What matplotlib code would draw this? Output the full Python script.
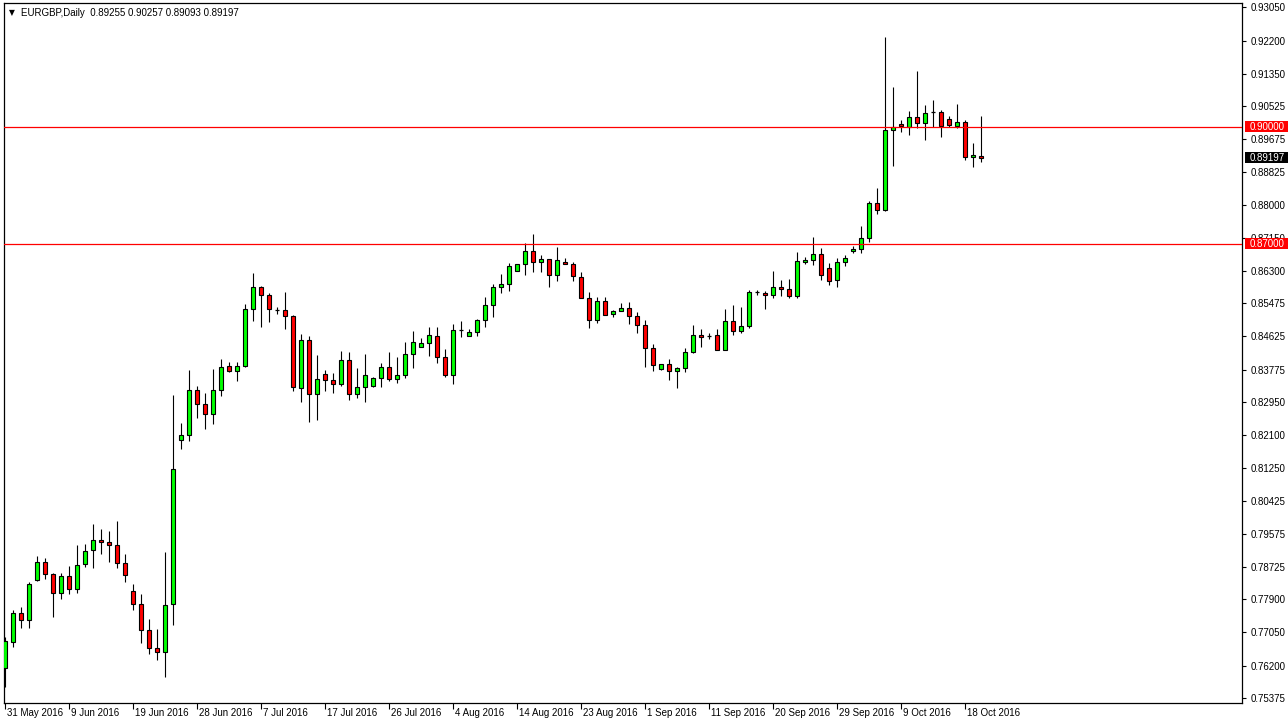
import matplotlib
matplotlib.use('Agg')
import matplotlib.pyplot as plt
import matplotlib.transforms as mtransforms
from matplotlib.patches import Rectangle

symbol = "EURGBP,Daily"

opens = [0.76138, 0.76803, 0.77546, 0.77366, 0.78390, 0.78851, 0.78544, 0.78058, 0.78493, 0.78160,
         0.78800, 0.79158, 0.79414, 0.79363, 0.79286, 0.78826, 0.78109, 0.77776, 0.77110, 0.76650,
         0.76547, 0.77776, 0.81974, 0.82102, 0.83254, 0.82896, 0.82640, 0.83254, 0.83869, 0.83741,
         0.83869, 0.85328, 0.85891, 0.85686, 0.85302, 0.85302, 0.85149, 0.83306, 0.84534, 0.83152,
         0.83664, 0.83510, 0.83408, 0.84022, 0.83152, 0.83331, 0.83357, 0.83562, 0.83843, 0.83536,
         0.83638, 0.84176, 0.84355, 0.84458, 0.84637, 0.84099, 0.83638, 0.84790, 0.84637, 0.84739,
         0.85046, 0.85430, 0.85891, 0.85968, 0.86301, 0.86480, 0.86813, 0.86531, 0.86608, 0.86198,
         0.86531, 0.86480, 0.86147, 0.85610, 0.85046, 0.85533, 0.85200, 0.85277, 0.85354, 0.85149,
         0.84918, 0.84330, 0.83792, 0.83920, 0.83741, 0.83818, 0.84227, 0.84662, 0.84637, 0.84662,
         0.84278, 0.85021, 0.84765, 0.84893, 0.85763, 0.85738, 0.85686, 0.85891, 0.85840, 0.85661,
         0.86531, 0.86582, 0.86736, 0.86378, 0.86070, 0.86531, 0.86813, 0.86864, 0.87146, 0.88042,
         0.87862, 0.89910, 0.90064, 0.89987, 0.90243, 0.90090, 0.90371, 0.90371, 0.90192, 0.90013,
         0.90115, 0.89219, 0.89255]
highs = [0.76931, 0.77622, 0.77699, 0.78339, 0.79005, 0.78954, 0.78570, 0.78570, 0.78749, 0.79286,
         0.79312, 0.79824, 0.79696, 0.79645, 0.79901, 0.79056, 0.78288, 0.78032, 0.77392, 0.77136,
         0.79107, 0.83126, 0.82410, 0.83766, 0.83357, 0.83178, 0.83792, 0.84048, 0.83971, 0.83971,
         0.85456, 0.86250, 0.85917, 0.85738, 0.85379, 0.85763, 0.85174, 0.84688, 0.84637, 0.84150,
         0.83766, 0.83690, 0.84253, 0.84227, 0.83818, 0.84176, 0.83587, 0.83946, 0.84227, 0.84099,
         0.84483, 0.84765, 0.84586, 0.84867, 0.84867, 0.84304, 0.84944, 0.85021, 0.84816, 0.85072,
         0.85635, 0.85968, 0.86224, 0.86506, 0.86480, 0.87018, 0.87248, 0.86710, 0.86608, 0.86915,
         0.86634, 0.86531, 0.86275, 0.85763, 0.85635, 0.85635, 0.85302, 0.85482, 0.85507, 0.85251,
         0.85046, 0.84432, 0.83920, 0.84048, 0.83843, 0.84330, 0.84918, 0.84816, 0.84714, 0.84816,
         0.85328, 0.85430, 0.85379, 0.85814, 0.85814, 0.85789, 0.86301, 0.86070, 0.86096, 0.86787,
         0.86659, 0.87171, 0.86890, 0.86506, 0.86634, 0.86710, 0.86941, 0.87453, 0.88093, 0.88426,
         0.92291, 0.91011, 0.90166, 0.90397, 0.91421, 0.90550, 0.90678, 0.90422, 0.90269, 0.90576,
         0.90166, 0.89578, 0.90257]
lows = [0.75651, 0.76675, 0.77162, 0.77162, 0.78365, 0.78416, 0.77443, 0.77904, 0.78032, 0.78058,
        0.78723, 0.78698, 0.79056, 0.78851, 0.78698, 0.78339, 0.77622, 0.76778, 0.76496, 0.76342,
        0.75907, 0.77238, 0.81744, 0.81949, 0.82538, 0.82256, 0.82384, 0.83101, 0.83715, 0.83485,
        0.83843, 0.85021, 0.84867, 0.84995, 0.85200, 0.84816, 0.83229, 0.82947, 0.82435, 0.82486,
        0.83229, 0.83178, 0.83357, 0.82998, 0.83050, 0.82947, 0.83331, 0.83331, 0.83485, 0.83434,
        0.83562, 0.83818, 0.84355, 0.84125, 0.83946, 0.83587, 0.83408, 0.84611, 0.84637, 0.84637,
        0.84867, 0.85123, 0.85738, 0.85789, 0.86301, 0.86198, 0.86275, 0.86275, 0.85891, 0.86045,
        0.86480, 0.86045, 0.85610, 0.84842, 0.84970, 0.85174, 0.85123, 0.85277, 0.84944, 0.84714,
        0.83843, 0.83741, 0.83766, 0.83510, 0.83306, 0.83715, 0.84202, 0.84355, 0.84560, 0.84278,
        0.84278, 0.84662, 0.84714, 0.84842, 0.85686, 0.85328, 0.85610, 0.85661, 0.85610, 0.85610,
        0.86480, 0.86454, 0.86070, 0.85942, 0.85891, 0.86429, 0.86762, 0.86762, 0.87043, 0.87760,
        0.87837, 0.88989, 0.89859, 0.89782, 0.89962, 0.89654, 0.89987, 0.89731, 0.89987, 0.89962,
        0.89142, 0.88963, 0.89093]
closes = [0.76829, 0.77546, 0.77366, 0.78288, 0.78851, 0.78544, 0.78058, 0.78493, 0.78160, 0.78774,
          0.79133, 0.79414, 0.79363, 0.79286, 0.78826, 0.78518, 0.77776, 0.77110, 0.76650, 0.76547,
          0.77750, 0.81232, 0.82102, 0.83254, 0.82896, 0.82640, 0.83254, 0.83843, 0.83741, 0.83869,
          0.85328, 0.85891, 0.85686, 0.85328, 0.85302, 0.85149, 0.83331, 0.84534, 0.83152, 0.83536,
          0.83510, 0.83408, 0.84022, 0.83152, 0.83331, 0.83638, 0.83562, 0.83843, 0.83536, 0.83638,
          0.84176, 0.84483, 0.84458, 0.84662, 0.84099, 0.83638, 0.84790, 0.84790, 0.84739, 0.85046,
          0.85430, 0.85891, 0.85968, 0.86429, 0.86480, 0.86813, 0.86531, 0.86608, 0.86198, 0.86582,
          0.86480, 0.86173, 0.85610, 0.85046, 0.85533, 0.85174, 0.85277, 0.85354, 0.85149, 0.84918,
          0.84330, 0.83894, 0.83920, 0.83741, 0.83818, 0.84227, 0.84662, 0.84611, 0.84637, 0.84278,
          0.85021, 0.84765, 0.84893, 0.85763, 0.85763, 0.85686, 0.85891, 0.85840, 0.85661, 0.86557,
          0.86582, 0.86736, 0.86198, 0.86045, 0.86531, 0.86634, 0.86864, 0.87146, 0.88042, 0.87862,
          0.89910, 0.89987, 0.90013, 0.90243, 0.90090, 0.90346, 0.90371, 0.90013, 0.90038, 0.90115,
          0.89219, 0.89270, 0.89197]

date_labels = ["31 May 2016", "9 Jun 2016", "19 Jun 2016", "28 Jun 2016", "7 Jul 2016",
               "17 Jul 2016", "26 Jul 2016", "4 Aug 2016", "14 Aug 2016", "23 Aug 2016",
               "1 Sep 2016", "11 Sep 2016", "20 Sep 2016", "29 Sep 2016", "9 Oct 2016",
               "18 Oct 2016"]
date_label_bars = [0, 8, 16, 24, 32, 40, 48, 56, 64, 72, 80, 88, 96, 104, 112, 120]

price_ticks = [0.93050, 0.92200, 0.91350, 0.90525, 0.89675, 0.88825, 0.88000, 0.87150,
               0.86300, 0.85475, 0.84625, 0.83775, 0.82950, 0.82100, 0.81250, 0.80425,
               0.79575, 0.78725, 0.77900, 0.77050, 0.76200, 0.75375]

level_lines = [0.90000, 0.87000]

plt.rcParams['font.family'] = ['Liberation Sans', 'DejaVu Sans']

W, H = 1288, 726
fig = plt.figure(figsize=(W / 100, H / 100), dpi=100)
fig.patch.set_facecolor('white')
ax = fig.add_axes([4 / W, 23 / H, 1238 / W, 700 / H])
ax.set_facecolor('white')

up_col = '#00ff00'
dn_col = '#ff0000'
body_w = 0.5

n = len(opens)
for i in range(n):
    o, h, l, c = opens[i], highs[i], lows[i], closes[i]
    ax.vlines(i, l, h, color='black', linewidth=0.8, zorder=2)
    if abs(c - o) < 1e-6:
        ax.hlines(o, i - body_w / 2, i + body_w / 2, color='black', linewidth=0.9, zorder=3)
    else:
        col = up_col if c > o else dn_col
        ax.bar(i, abs(c - o), bottom=min(o, c), width=body_w, color=col,
               edgecolor='black', linewidth=0.8, zorder=3)

for lv in level_lines:
    ax.axhline(lv, color='#ff0000', linewidth=0.9, zorder=4)

ax.set_xlim(-0.125, 154.625)
ax.set_ylim(0.752416, 0.931616)

for sp in ax.spines.values():
    sp.set_color('black')
    sp.set_linewidth(0.9)

ax.yaxis.tick_right()
ax.set_yticks(price_ticks)
ax.set_yticklabels([f"{p:.5f}" for p in price_ticks])
ax.tick_params(axis='y', direction='out', length=3, width=0.8, labelsize=7, pad=3,
               colors='black')

ax.set_xticks(date_label_bars)
ax.set_xticklabels([])
ax.tick_params(axis='x', direction='out', length=4, width=0.8)
xt = mtransforms.blended_transform_factory(ax.transData, ax.transAxes)
for b, lab in zip(date_label_bars, date_labels):
    ax.text(b + 0.3, -0.0143, lab, transform=xt, ha='left', va='center', fontsize=7,
            clip_on=False)

# price boxes on the right axis
bt = mtransforms.blended_transform_factory(ax.transAxes, ax.transData)
box_h = 11 * 0.000256
box_x = (1245 - 4) / 1238
box_w = 43 / 1238
for lv in level_lines:
    ax.add_patch(Rectangle((box_x, lv - box_h / 2), box_w, box_h, transform=bt,
                           facecolor='#ff0000', edgecolor='none', clip_on=False, zorder=10))
    ax.text(box_x + 0.0035, lv, f"{lv:.5f}", transform=bt, ha='left', va='center',
            fontsize=7, color='white', clip_on=False, zorder=11)
last_price = closes[-1]
ax.add_patch(Rectangle((box_x, last_price - box_h / 2), box_w, box_h, transform=bt,
                       facecolor='black', edgecolor='none', clip_on=False, zorder=10))
ax.text(box_x + 0.0035, last_price, f"{last_price:.5f}", transform=bt, ha='left',
        va='center', fontsize=7, color='white', clip_on=False, zorder=11)

# header
fig.text(9 / W, 1 - 12.5 / H, "\u25BC", fontsize=5.5, ha='left', va='center',
         family=['DejaVu Sans'])
fig.text(21 / W, 1 - 12.5 / H,
         f"{symbol}  {opens[-1]:.5f} {highs[-1]:.5f} {lows[-1]:.5f} {closes[-1]:.5f}",
         fontsize=7, ha='left', va='center')

fig.savefig('out.png', dpi=100, facecolor='white')
